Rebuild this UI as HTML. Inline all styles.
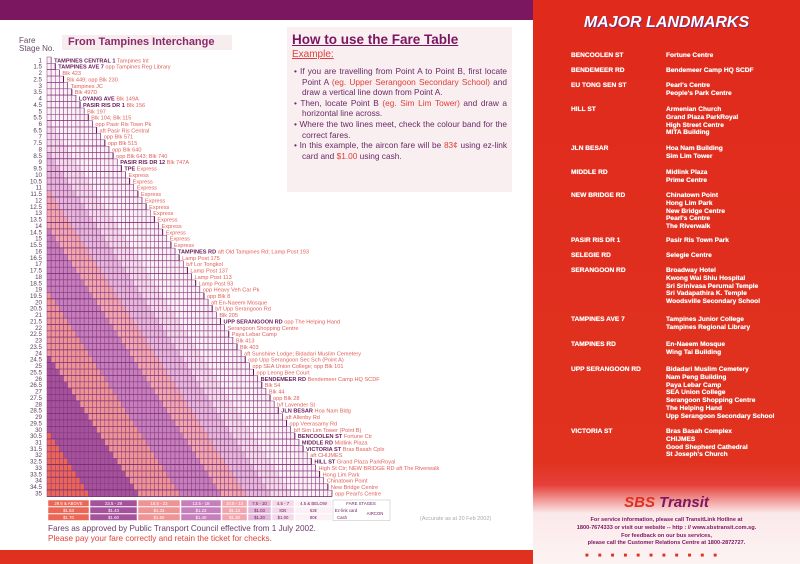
<!DOCTYPE html>
<html><head><meta charset="utf-8"><style>
*{margin:0;padding:0;box-sizing:border-box}
body{width:800px;height:564px;overflow:hidden;background:#fff;font-family:"Liberation Sans",sans-serif;position:relative}
.abs{position:absolute}
#right{left:533px;top:0;width:267px;height:564px;background:linear-gradient(#e02a1c,#e0321f 82%,#e6403a 86%,#fbe9ea 91%,#fdf3f3);}
.lm{position:absolute;color:#fff;font-size:6.6px;font-weight:bold;line-height:7.8px;text-shadow:0 0 0.5px #fff}
.how p{font-size:8.3px;color:#6a2a66;line-height:10.6px;padding-left:10px;text-indent:-8px;text-align:justify}
.r{color:#e0403a}
</style></head><body>
<div class="abs" style="left:0;top:0;width:533px;height:20px;background:#7b1660"></div>
<div class="abs" style="left:0;top:550px;width:533px;height:14px;background:#e0301f"></div>
<div class="abs" style="left:19px;top:37px;font-size:8px;color:#6a4a6a;line-height:8px">Fare<br>Stage No.</div>
<div class="abs" style="left:62px;top:35px;width:170px;height:15px;background:#f7ecee;font-size:11px;font-weight:bold;color:#8a2a6a;padding-left:6px;line-height:15px">From Tampines Interchange</div>
<div class="abs how" style="left:287px;top:27px;width:225px;height:165px;background:#f9eef0;padding:4px 5px">
<div style="font-size:13.5px;font-weight:bold;color:#7b1660;text-decoration:underline;line-height:17px">How to use the Fare Table</div>
<div style="font-size:10px;color:#e0403a;text-decoration:underline;line-height:14px;margin-bottom:4px">Example:</div>
<p>• If you are travelling from Point A to Point B, first locate Point A <span class="r">(eg. Upper Serangoon Secondary School)</span> and draw a vertical line down from Point A.</p>
<p>• Then, locate Point B <span class="r">(eg. Sim Lim Tower)</span> and draw a horizontal line across.</p>
<p>• Where the two lines meet, check the colour band for the correct fares.</p>
<p>• In this example, the aircon fare will be <span class="r">83¢</span> using ez-link card and <span class="r">$1.00</span> using cash.</p>
</div>
<svg class="abs" style="left:0;top:0" width="533" height="550" id="chart"></svg>
<div class="abs" style="left:420px;top:516px;font-size:5.5px;color:#aaa">(Accurate as at 20 Feb 2002)</div>
<div class="abs" style="left:48px;top:524px;font-size:8.2px;color:#6a3a6a;line-height:10px">Fares as approved by Public Transport Council effective from 1 July 2002.<br><span style="color:#e0403a">Please pay your fare correctly and retain the ticket for checks.</span></div>
<div class="abs" id="right"></div>
<div class="abs" style="left:533px;width:267px;top:14px;text-align:center;font-size:16px;font-weight:bold;font-style:italic;color:#fff;text-shadow:1px 1px 0 #7a2a6a">MAJOR LANDMARKS</div>
<div id="lms"></div>
<div class="abs" style="left:533px;width:267px;top:494px;text-align:center;font-size:15px;font-weight:bold;font-style:italic;color:#e0301f">SBS <span style="color:#7b1660">Transit</span></div>
<div class="abs" style="left:533px;width:267px;top:517px;text-align:center;font-size:5.6px;color:#7b1660;line-height:7.8px;font-weight:bold">For service information, please call TransitLink Hotline at<br>1800-7674333 or visit our website -- http : // www.sbstransit.com.sg.<br>For feedback on our bus services,<br>please call the Customer Relations Centre at 1800-2872727.</div>
<div class="abs" style="left:585px;top:553px;font-size:6px;color:#e0301f;letter-spacing:9.2px">■■■■■■■■■■■</div>
<script>
const stages=[];for(let s=1;s<=35;s+=0.5)stages.push(s);
const roads=["TAMPINES CENTRAL 1","TAMPINES AVE 7","","","","","LOYANG AVE","PASIR RIS DR 1","","","","","","","","","PASIR RIS DR 12","TPE","","","","","","","","","","","","","TAMPINES RD","","","","","","","","","","","UPP SERANGOON RD","","","","","","","","","BENDEMEER RD","","","","","JLN BESAR","","","","BENCOOLEN ST","MIDDLE RD","VICTORIA ST","","HILL ST","","","","","","EU TONG SEN ST"];
const stops=["Tampines Int","opp Tampines Reg Library","Blk 423","Blk 449; opp Blk 230","Tampines JC","Blk 497D","Blk 149A","Blk 156","Blk 197","Blk 104; Blk 115","opp Pasir Ris Town Pk","aft Pasir Ris Central","opp Blk 571","opp Blk 515","opp Blk 640","opp Blk 643; Blk 740","Blk 747A","Express","Express","Express","Express","Express","Express","Express","Express","Express","Express","Express","Express","Express","aft Old Tampines Rd; Lamp Post 193","Lamp Post 175","b/f Lor Tongkol","Lamp Post 137","Lamp Post 113","Lamp Post 93","opp Heavy Veh Car Pk","opp Blk 8","aft En-Naeem Mosque","b/f Upp Serangoon Rd","Blk 205","opp The Helping Hand","Serangoon Shopping Centre","Paya Lebar Camp","Blk 413","Blk 403","aft Sunshine Lodge; Bidadari Muslim Cemetery","opp Upp Serangoon Sec Sch (Point A)","opp SEA Union College; opp Blk 101","opp Leong Bee Court","Bendemeer Camp HQ SCDF","Blk 54","Blk 44","opp Blk 28","b/f Lavender St","Hoa Nam Bldg","aft Allenby Rd","opp Veerasamy Rd","b/f Sim Lim Tower (Point B)","Fortune Ctr","Midlink Plaza","Bras Basah Cplx","aft CHIJMES","Grand Plaza ParkRoyal","High St Ctr; NEW BRIDGE RD aft The Riverwalk","Hong Lim Park","Chinatown Point","New Bridge Centre","opp Pearl's Centre","New Bridge Rd Terminal"];
const bandMax=[4.5,7,10,13,18,23,29,99];
const bandLabels=["4.5 & BELOW","4.5 - 7","7.5 - 10","10.5 - 13","13.5 - 18","18.5 - 23","23.5 - 29","29.5 & ABOVE"];
const ezFares=["63¢","83¢","$1.03","$1.13","$1.23","$1.33","$1.43","$1.53"];
const cashFares=["80¢","$1.00","$1.20","$1.30","$1.40","$1.50","$1.60","$1.70"];
const colors=["#fbf0f6","#f3daea","#e4b8da","#f2a6ae","#c67fbd","#ef9494","#a5529c","#ec6656"];
const NS="http://www.w3.org/2000/svg";
const svg=document.getElementById('chart');
const X0=47,CW=4.13,Y0=57,RH=6.37;
const xS=i=>X0+i*CW, yS=i=>Y0+i*RH;
function mk(t,a){const e=document.createElementNS(NS,t);for(const k in a)e.setAttribute(k,a[k]);svg.appendChild(e);return e;}
function band(d){for(let b=0;b<bandMax.length;b++)if(d<=bandMax[b])return b;return 7;}
stages.forEach((s,r)=>{
  for(let c=0;c<=r;c++){
    const e=mk('rect',{x:xS(c),y:yS(r),width:CW,height:RH,fill:colors[band(s-stages[c])],stroke:'#8a3a80','stroke-width':0.5});
    
    
  }
  const st=mk('path',{d:`M${xS(0)} ${yS(r+1)}H${xS(r+1)}V${yS(r)}`,fill:'none',stroke:'#5a1050','stroke-width':(r%2?1:0.5)});
  
  
  const lb=mk('text',{x:42,y:yS(r)+5.3,'font-size':6.2,fill:'#5a3a5a','text-anchor':'end'});
  lb.textContent=s;
  
  
  const tx=mk('text',{x:xS(r+1)+3,y:yS(r)+5.3,'font-size':5.6,fill:'#e0605a'});
  
  
  if(roads[r]){const b=document.createElementNS(NS,'tspan');b.setAttribute('font-weight','bold');b.setAttribute('fill','#6a1a5a');b.textContent=roads[r]+' ';tx.appendChild(b);}
  const n=document.createElementNS(NS,'tspan');n.textContent=stops[r];tx.appendChild(n);
});
const lx=[48,90,138,181,222,248,272,295,333];
for(let i=0;i<8;i++){
  const b=7-i,x=lx[i],w=lx[i+1]-x-1;
  [[bandLabels[b],500],[ezFares[b],507],[cashFares[b],514]].forEach(([t,y])=>{
    const r=mk('rect',{x,y,width:w,height:6.5,fill:colors[b],stroke:'#fff','stroke-width':0.5});
    
    
    const tt=mk('text',{x:x+w/2,y:y+5,'font-size':4.3,'text-anchor':'middle',fill:b>=3?'#fff':'#6a1a5a'});
    tt.textContent=t;
    
    
  });
}
const fs=mk('rect',{x:333,y:500,width:57,height:20.5,fill:'#fff',stroke:'#bbb','stroke-width':0.5});


[["FARE STAGES",361,505],["Ez-link card",346,512],["Cash",342,519],["AIRCON",375,515]].forEach(([t,x,y])=>{const e=mk('text',{x,y,'font-size':4.3,'text-anchor':'middle',fill:'#6a1a5a'});e.textContent=t;});
const lm=[["BENCOOLEN ST",56,["Fortune Centre"]],["BENDEMEER RD",71,["Bendemeer Camp HQ SCDF"]],["EU TONG SEN ST",86,["Pearl's Centre","People's Park Centre"]],["HILL ST",110,["Armenian Church","Grand Plaza ParkRoyal","High Street Centre","MITA Building"]],["JLN BESAR",149,["Hoa Nam Building","Sim Lim Tower"]],["MIDDLE RD",173,["Midlink Plaza","Prime Centre"]],["NEW BRIDGE RD",196,["Chinatown Point","Hong Lim Park","New Bridge Centre","Pearl's Centre","The Riverwalk"]],["PASIR RIS DR 1",241,["Pasir Ris Town Park"]],["SELEGIE RD",256,["Selegie Centre"]],["SERANGOON RD",271,["Broadway Hotel","Kwong Wai Shiu Hospital","Sri Srinivasa Perumal Temple","Sri Vadapathira K. Temple","Woodsville Secondary School"]],["TAMPINES AVE 7",320,["Tampines Junior College","Tampines Regional Library"]],["TAMPINES RD",345,["En-Naeem Mosque","Wing Tai Building"]],["UPP SERANGOON RD",370,["Bidadari Muslim Cemetery","Nam Peng Building","Paya Lebar Camp","SEA Union College","Serangoon Shopping Centre","The Helping Hand","Upp Serangoon Secondary School"]],["VICTORIA ST",432,["Bras Basah Complex","CHIJMES","Good Shepherd Cathedral","St Joseph's Church"]]];
const box=document.getElementById('lms');
lm.forEach(([k,y,v])=>{
  const a=document.createElement('div');a.className='lm';a.style.left='571px';a.style.top=(y-4)+'px';a.textContent=k;
  
  
  box.appendChild(a);
  const b=document.createElement('div');b.className='lm';b.style.left='666px';b.style.top=(y-4)+'px';b.innerHTML=v.join('<br>');
  
  
  box.appendChild(b);
});
</script>
</body></html>
